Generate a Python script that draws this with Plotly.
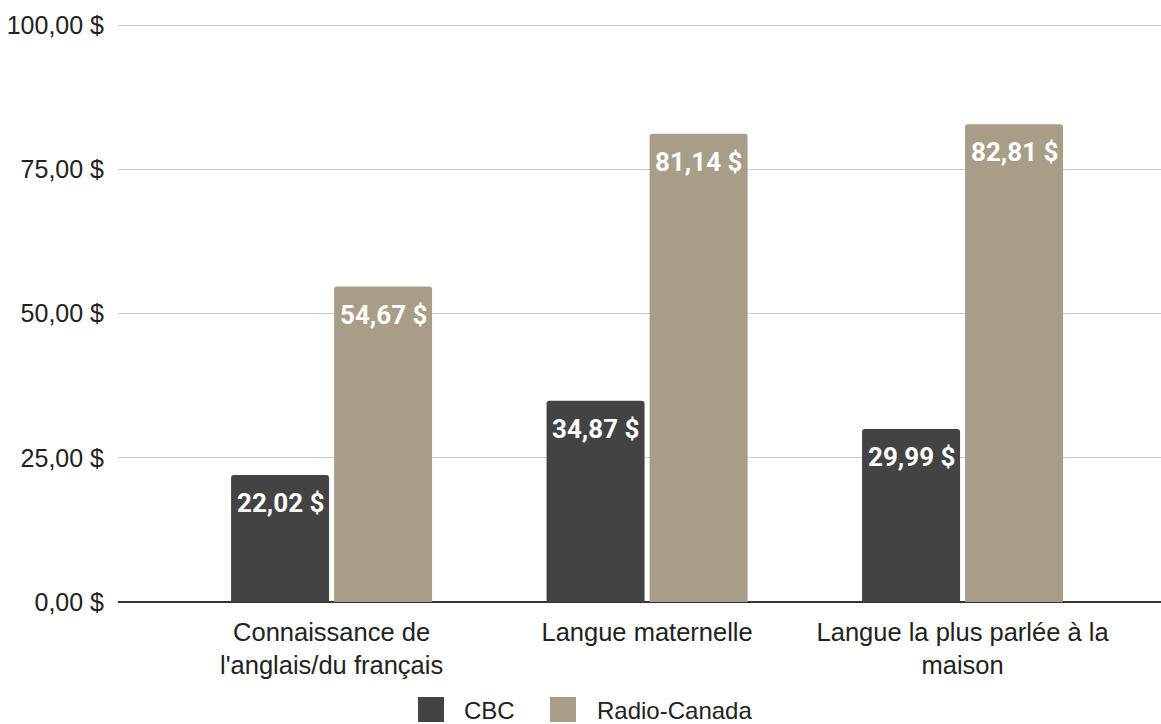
import plotly.graph_objects as go

categories = ["Connaissance de<br>l'anglais/du français", "Langue maternelle", "Langue la plus parlée à la<br>maison"]
cbc = [22.02, 34.87, 29.99]
radio_canada = [54.67, 81.14, 82.81]
series_names = ["CBC", "Radio-Canada"]
colors = ["#434343", "#a89e88"]
ytick_vals = [0, 25, 50, 75, 100]

W, H = 1161, 724
ML, MR, MT, MB = 118, 0, 20, 122
PW, PH = W - ML - MR, H - MT - MB

def fr(v):
    return f"{v:.2f}".replace(".", ",") + " $"

xs = list(range(len(categories)))
x_range = [-0.677, 2.629]
bargap = 0.347
slot = (1 - bargap) / 2

fig = go.Figure()
for name, vals, col in zip(series_names, [cbc, radio_canada], colors):
    fig.add_trace(go.Bar(x=xs, y=vals, name=name, marker=dict(color=col, line=dict(width=0)),
                         showlegend=False, hoverinfo="skip"))

annotations = []
for k, vals in enumerate([cbc, radio_canada]):
    off = (k - 0.5) * slot
    for i, v in enumerate(vals):
        annotations.append(dict(x=xs[i] + off, y=v, xref="x", yref="y", text=fr(v), showarrow=False,
                                yshift=-28, yanchor="middle", xanchor="center",
                                font=dict(family="Roboto", size=26, color="white", weight="bold")))

# legend drawn manually (large squares)
def px_x(p):
    return (p - ML) / PW
def px_y(p):
    return (H - MB - p) / PH

shapes = []
leg_items = [(418, 462), (550, 595)]
for (sx, tx), name, col in zip(leg_items, series_names, colors):
    shapes.append(dict(type="rect", xref="paper", yref="paper", x0=px_x(sx), x1=px_x(sx + 26),
                       y0=px_y(722), y1=px_y(697), fillcolor=col, line=dict(width=0)))
    annotations.append(dict(x=px_x(tx), y=px_y(710), xref="paper", yref="paper", text=name,
                            showarrow=False, xanchor="left", yanchor="middle",
                            font=dict(family="Liberation Sans, Arial", size=24, color="#222222")))

fig.update_layout(
    width=W, height=H,
    margin=dict(l=ML, r=MR, t=MT, b=MB),
    paper_bgcolor="white", plot_bgcolor="white",
    barmode="group", bargap=bargap, bargroupgap=0.0485, barcornerradius=3,
    separators=", ",
    font=dict(family="Liberation Sans, Arial", size=25, color="#222222"),
    xaxis=dict(tickvals=xs, ticktext=categories, range=x_range, showgrid=False, zeroline=False,
               ticks="", ticklabelstandoff=12, tickfont=dict(size=25.5, color="#222222")),
    yaxis=dict(range=[0, 100.87], tickvals=ytick_vals, ticktext=[fr(v) for v in ytick_vals],
               showgrid=True, gridcolor="#cccccc", gridwidth=1,
               zeroline=True, zerolinecolor="#333333", zerolinewidth=2,
               ticks="", ticklabelstandoff=13, tickfont=dict(size=25, color="#222222")),
    annotations=annotations, shapes=shapes,
)

fig.write_html("out.html")
